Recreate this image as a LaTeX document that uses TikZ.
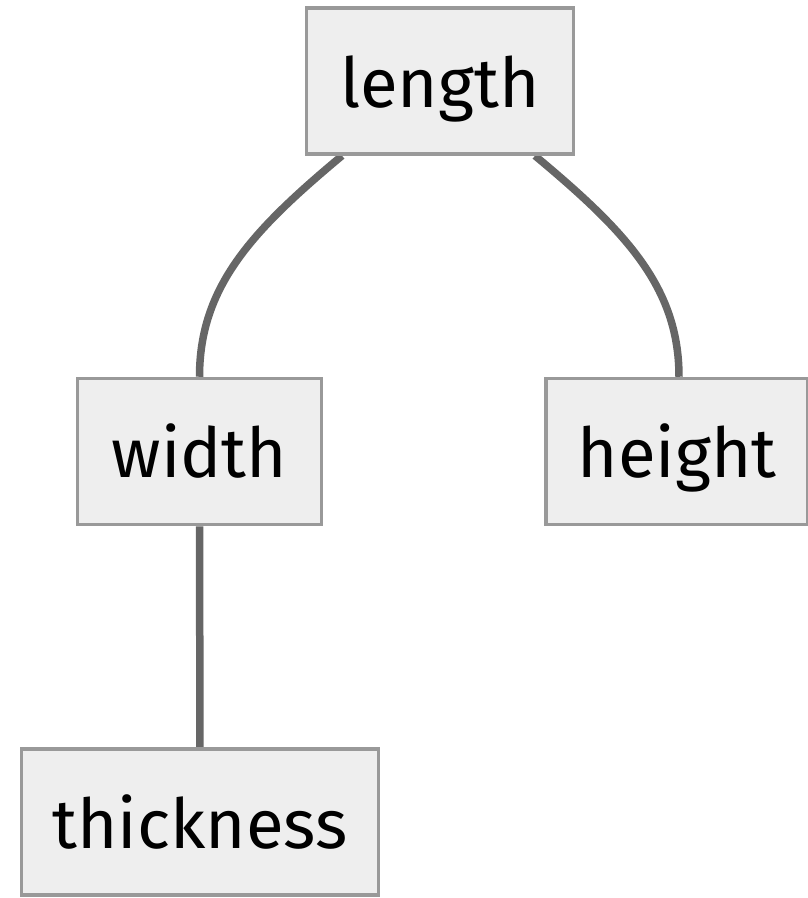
\documentclass[tikz,border=0pt]{standalone}
\usepackage{fontspec}
\setmainfont{Fira Sans}
\usetikzlibrary{positioning}
\pgfdeclarelayer{edgelayer}
\pgfdeclarelayer{nodelayer}
\pgfsetlayers{edgelayer,nodelayer,main}
\definecolor{boxfill}{HTML}{EEEEEE}
\definecolor{boxline}{HTML}{999999}
\definecolor{linkline}{HTML}{666666}
\tikzstyle{none}=[inner sep=0pt]
\tikzstyle{field}=[rectangle,fill=boxfill,draw=boxline,line width=3.5pt,minimum height=146pt,inner sep=0pt,text height=52pt,text depth=0pt,font=\fontsize{69}{83}\selectfont]
\tikzstyle{link}=[-,draw=linkline,line width=7.5pt]

\begin{document}
\begin{tikzpicture}[x=1pt,y=-1pt]
	\useasboundingbox (0,0) rectangle (808,898);
	\begin{pgfonlayer}{nodelayer}
		\node [style=field, minimum width=267pt] (0) at (440, 81) {length};
		\node [style=field, minimum width=244pt] (1) at (199.5, 451.5) {width};
		\node [style=field, minimum width=262pt] (2) at (677, 451.5) {height};
		\node [style=field, minimum width=357pt] (3) at (200, 822) {thickness};
	\end{pgfonlayer}
	\begin{pgfonlayer}{edgelayer}
		\draw [style=link] ([xshift=-98pt]0.south) .. controls +(-90,75) and +(0,-90) .. (1.north);
		\draw [style=link] ([xshift=95pt]0.south) .. controls +(90,75) and +(0,-90) .. ([xshift=2pt]2.north);
		\draw [style=link] (1) to (3);
	\end{pgfonlayer}
\end{tikzpicture}
\end{document}
